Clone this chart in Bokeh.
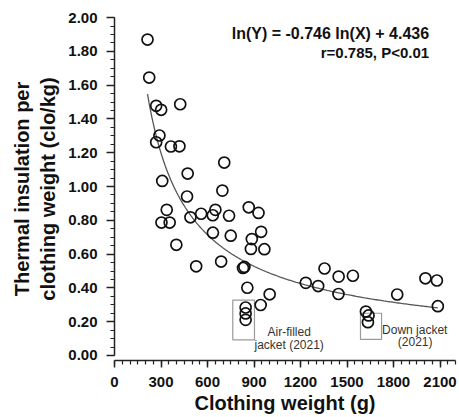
from bokeh.plotting import figure
from bokeh.models import Range1d, SingleIntervalTicker, PrintfTickFormatter
from bokeh.core.properties import value
from bokeh.embed import file_html
from bokeh.resources import INLINE
import numpy as np

# clothing weight (g)
weight = [213, 224, 269, 301, 424, 290, 269, 364, 419, 708,
          472, 308, 696, 468, 337, 303, 356, 490, 559, 634,
          651, 739, 866, 929, 399, 635, 750, 886, 946, 880,
          967, 527, 688, 838, 829, 857, 1001, 943, 846, 846,
          846, 1234, 1314, 1355, 1446, 1538, 1445, 1622, 1639, 1635,
          1824, 2006, 2080, 2086]
# thermal insulation per clothing weight (clo/kg)
insul = [1.870, 1.645, 1.478, 1.454, 1.487, 1.302, 1.262, 1.237, 1.238, 1.142,
         1.077, 1.033, 0.976, 0.941, 0.862, 0.787, 0.787, 0.818, 0.839, 0.830,
         0.862, 0.827, 0.877, 0.844, 0.655, 0.727, 0.709, 0.689, 0.732, 0.631,
         0.629, 0.528, 0.556, 0.524, 0.518, 0.401, 0.362, 0.299, 0.284, 0.249,
         0.211, 0.430, 0.411, 0.515, 0.467, 0.472, 0.364, 0.260, 0.237, 0.197,
         0.361, 0.457, 0.444, 0.292]

# regression printed on the chart: ln(Y) = SLOPE ln(X) + INTERCEPT
SLOPE = -0.746
INTERCEPT = 4.436
eq_lines = ["ln(Y) = -0.746 ln(X) + 4.436", "r=0.785, P<0.01"]

# highlighted boxes
box_left = [763, 1587]
box_right = [903, 1723]
box_bottom = [0.093, 0.096]
box_top = [0.328, 0.250]

note_x = [1127, 1127, 1937, 1940]
note_y = [0.138, 0.065, 0.148, 0.077]
note_text = ["Air-filled", "jacket (2021)", "Down jacket", "(2021)"]

FONT = "Liberation Sans"

p = figure(width=459, height=417,
           x_range=Range1d(0, 2200), y_range=Range1d(-0.0296, 2.0005),
           output_backend="svg", toolbar_location=None,
           min_border_left=114, min_border_right=4,
           min_border_top=17, min_border_bottom=57)
p.outline_line_color = None
p.xgrid.visible = False
p.ygrid.visible = False
p.background_fill_color = "white"

axis_color = "#222222"
for ax in (p.xaxis[0], p.yaxis[0]):
    ax.axis_line_color = axis_color
    ax.axis_line_width = 1.5
    ax.major_tick_line_color = axis_color
    ax.minor_tick_line_color = axis_color
    ax.major_tick_line_width = 1.5
    ax.minor_tick_line_width = 1.2
    ax.major_tick_in = 0
    ax.minor_tick_in = 0
    ax.major_label_text_font = FONT
    ax.major_label_text_font_style = "bold"
    ax.major_label_text_font_size = "15px"
    ax.major_label_text_color = "#111111"
    ax.axis_label_text_font = FONT
    ax.axis_label_text_font_style = "bold"
    ax.axis_label_text_font_size = "20px"
    ax.axis_label_text_color = "#111111"

xa = p.xaxis[0]
xa.ticker = SingleIntervalTicker(interval=300, num_minor_ticks=6)
xa.bounds = (0, 2200)
xa.major_tick_out = 7
xa.minor_tick_out = 4
xa.major_label_standoff = 9
xa.axis_label = "Clothing weight (g)"
xa.axis_label_standoff = 2

ya = p.yaxis[0]
ya.ticker = SingleIntervalTicker(interval=0.2, num_minor_ticks=4)
ya.formatter = PrintfTickFormatter(format="%.2f")
ya.bounds = (0, 2.0)
ya.major_tick_out = 8
ya.minor_tick_out = 4
ya.major_label_standoff = 9
ya.axis_label = "Thermal insulation per\nclothing weight (clo/kg)"
ya.axis_label_standoff = 6

p.quad(left=box_left, right=box_right, bottom=box_bottom, top=box_top,
       fill_color=None, line_color="#9a9a9a", line_width=1.2)

cx = np.linspace(min(weight), max(weight), 200)
cy = np.exp(SLOPE * np.log(cx) + INTERCEPT)
p.line(cx, cy, line_color="#555555", line_width=1.3)

p.scatter(weight, insul, marker="circle", size=11, fill_color=None,
          line_color="#111111", line_width=1.7)

p.text(x=note_x, y=note_y, text=note_text, text_font=value(FONT),
       text_font_size="12px", text_align="center", text_baseline="middle",
       text_color="#333333")

p.text(x=[2030], y=[1.905], text=[eq_lines[0]], text_font=value(FONT),
       text_font_size="16px", text_font_style="bold", text_align="right",
       text_baseline="middle", text_color="#111111")
p.text(x=[2030], y=[1.793], text=[eq_lines[1]], text_font=value(FONT),
       text_font_size="15px", text_font_style="bold", text_align="right",
       text_baseline="middle", text_color="#111111")

open("out.html", "w").write(file_html(p, INLINE))
